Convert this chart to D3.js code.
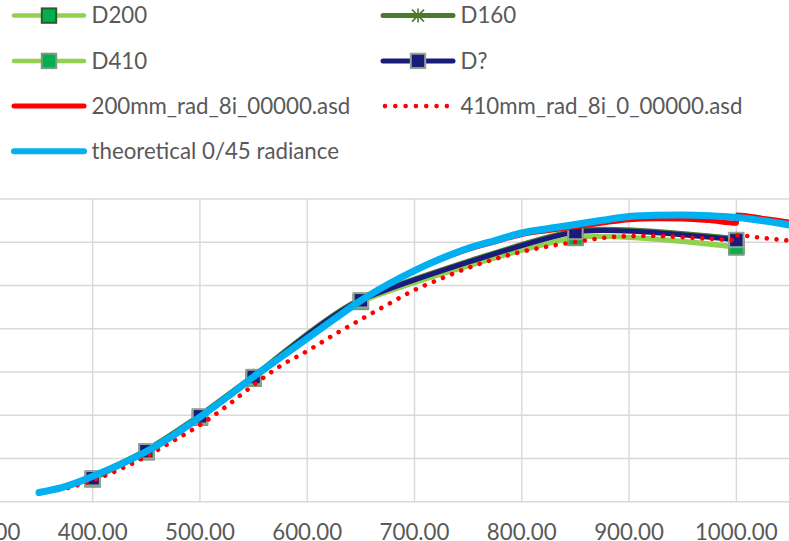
<!DOCTYPE html>
<html>
<head>
<meta charset="utf-8">
<script src="https://cdn.jsdelivr.net/npm/d3@7"></script>
<style>
  html, body { margin: 0; padding: 0; background: #ffffff; overflow: hidden; }
  svg { display: block; }
</style>
</head>
<body>
<svg id="chart" width="789" height="541"></svg>
<script>
// ---- data -------------------------------------------------------------
// sampled wavelengths (nm) of the detector spectra; 1000/1001 marks the VNIR/SWIR splice
const asdNm = [350,375,400,425,450,475,500,525,550,575,600,625,650,675,700,725,750,775,800,825,850,875,900,925,950,975,1000,1001,1025,1050,1075,1100];
const rad200 = [0.0101,0.0172,0.0288,0.0422,0.0575,0.0760,0.0974,0.1201,0.1440,0.1662,0.1884,0.2104,0.2321,0.2506,0.2667,0.2803,0.2918,0.3005,0.3090,0.3136,0.3180,0.3221,0.3261,0.3272,0.3269,0.3250,0.3219,0.3315,0.3275,0.3231,0.3176,0.3113];
const rad410 = [0.0101,0.0153,0.0247,0.0372,0.0523,0.0702,0.0887,0.1107,0.1349,0.1569,0.1742,0.1930,0.2107,0.2280,0.2448,0.2581,0.2704,0.2806,0.2890,0.2953,0.3003,0.3049,0.3070,0.3072,0.3058,0.3040,0.3024,0.3080,0.3049,0.3017,0.2988,0.2962];

// theoretical 0/45 radiance
const theoNm = [350,375,400,425,450,475,500,525,550,575,600,625,650,675,700,725,750,775,800,825,850,875,900,925,950,975,1000,1025,1050,1075,1100];
const theoRad = [0.0106,0.0178,0.0294,0.0428,0.0580,0.0765,0.0979,0.1207,0.1445,0.1667,0.1889,0.2110,0.2326,0.2511,0.2673,0.2812,0.2930,0.3020,0.3107,0.3159,0.3205,0.3254,0.3298,0.3313,0.3315,0.3306,0.3285,0.3248,0.3199,0.3142,0.3072];

// filter-radiometer bands (nm) and their readings
const bandNm = [400,450,500,550,650,850,1000];
const d200 = [0.0262,0.0575,0.0976,0.1427,0.2315,0.3055,0.2951];
const d160 = [0.0285,0.0598,0.1001,0.1456,0.2343,0.3132,0.3040];
const d410 = [0.0258,0.0571,0.0970,0.1421,0.2309,0.3049,0.2939];
const dUnknown = [0.0271,0.0584,0.0987,0.1442,0.2329,0.3118,0.3026];

// axis ticks
const xTicks = [300,400,500,600,700,800,900,1000,1100];
const yTicks = [0,0.05,0.10,0.15,0.20,0.25,0.30,0.35];

// ---- styles -----------------------------------------------------------
const FONT = "Lato, 'Open Sans', sans-serif";
const TEXT = "#595959";
const GRID = "#d9d9d9";

const series = [
  { name: "D200", nm: bandNm, v: d200, color: "#92d050", width: 4.5, curve: "smooth",
    marker: { type: "square", fill: "#00b050", stroke: "#2a5c2e" } },
  { name: "D160", nm: bandNm, v: d160, color: "#4e7a2c", width: 5, curve: "smooth",
    marker: { type: "star", stroke: "#4e7a2c" } },
  { name: "D410", nm: bandNm, v: d410, color: "#92d050", width: 4.5, curve: "smooth",
    marker: { type: "square", fill: "#00b050", stroke: "#7d9a7b" } },
  { name: "D?", nm: bandNm, v: dUnknown, color: "#1b1b7c", width: 5, curve: "smooth",
    marker: { type: "square", fill: "#1b1b7c", stroke: "#95a690" } },
  { name: "200mm_rad_8i_00000.asd", nm: asdNm, v: rad200, color: "#ff0000", width: 5, curve: "mono" },
  { name: "410mm_rad_8i_0_00000.asd", nm: asdNm, v: rad410, color: "#ff0000", width: 4.6, curve: "mono", dotted: true },
  { name: "theoretical 0/45 radiance", nm: theoNm, v: theoRad, color: "#00b0f0", width: 7, curve: "mono" }
];

// ---- layout -----------------------------------------------------------
const svg = d3.select("#chart");

const x = d3.scaleLinear().domain([300, 1100]).range([-14.6, 843.6]);
const y = d3.scaleLinear().domain([0, 0.35]).range([501.7, 199]);

// size the text so the Calibri-like metrics of the layout are kept
const probe = svg.append("text").style("font-family", FONT).style("font-size", "100px")
  .text("200mm_rad_8i_00000.asd");
const fontSize = 100 * 259 / probe.node().getComputedTextLength();
probe.remove();

// gridlines
const grid = svg.append("g");
grid.selectAll("line.h").data(yTicks).join("line")
  .attr("x1", x(300)).attr("x2", x(1100))
  .attr("y1", d => y(d)).attr("y2", d => y(d))
  .attr("stroke", GRID).attr("stroke-width", 1.4);
grid.selectAll("line.v").data(xTicks).join("line")
  .attr("x1", d => x(d)).attr("x2", d => x(d))
  .attr("y1", y(0.35)).attr("y2", y(0))
  .attr("stroke", GRID).attr("stroke-width", 1.4);

// x axis labels
svg.append("g").selectAll("text").data(xTicks).join("text")
  .attr("x", d => x(d)).attr("y", 539.5)
  .attr("text-anchor", "middle")
  .style("font-family", FONT).style("font-size", fontSize + "px")
  .attr("fill", TEXT)
  .text(d => d3.format(".2f")(d));

// markers
function drawMarker(g, m, cx, cy) {
  if (m.type === "square") {
    g.append("rect")
      .attr("x", cx - 7.2).attr("y", cy - 7.2)
      .attr("width", 14.4).attr("height", 14.4)
      .attr("fill", m.fill).attr("stroke", m.stroke).attr("stroke-width", 2);
  } else if (m.type === "star") {
    g.append("path")
      .attr("d", `M${cx},${cy - 7}L${cx},${cy + 7}M${cx - 6},${cy - 6}L${cx + 6},${cy + 6}M${cx - 6},${cy + 6}L${cx + 6},${cy - 6}`)
      .attr("stroke", m.stroke).attr("stroke-width", 1.6).attr("fill", "none");
  }
}

// series, drawn in legend order
const plot = svg.append("g");
series.forEach(s => {
  const pts = s.nm.map((n, i) => [n, s.v[i]]);
  const line = d3.line()
    .x(d => x(d[0])).y(d => y(d[1]))
    .curve(s.curve === "smooth" ? d3.curveCardinal.tension(0.4) : d3.curveMonotoneX);
  const g = plot.append("g");
  const p = g.append("path").datum(pts)
    .attr("d", line)
    .attr("fill", "none")
    .attr("stroke", s.color)
    .attr("stroke-width", s.width)
    .attr("stroke-linejoin", "round")
    .attr("stroke-linecap", "round");
  if (s.dotted) p.attr("stroke-dasharray", "0.01 9.8");
  if (s.marker) pts.forEach(d => drawMarker(g, s.marker, x(d[0]), y(d[1])));
});

// legend
const legendPos = [
  { col: 0, row: 0 }, { col: 1, row: 0 },
  { col: 0, row: 1 }, { col: 1, row: 1 },
  { col: 0, row: 2 }, { col: 1, row: 2 },
  { col: 0, row: 3 }
];
const colX = [14, 383];
const rowY = [15.6, 60.9, 106.1, 151.3];
const legend = svg.append("g");
series.forEach((s, i) => {
  const lx = colX[legendPos[i].col];
  const ly = rowY[legendPos[i].row];
  const g = legend.append("g");
  const l = g.append("line")
    .attr("x1", lx).attr("x2", lx + 70)
    .attr("y1", ly).attr("y2", ly)
    .attr("stroke", s.color)
    .attr("stroke-width", Math.min(s.width, 6))
    .attr("stroke-linecap", "round");
  if (s.dotted) l.attr("x1", lx + 2).attr("x2", lx + 66).attr("stroke-dasharray", "0.01 10.3");
  if (s.marker) drawMarker(g, s.marker, lx + 35, ly);
  g.append("text")
    .attr("x", lx + 77.5).attr("y", ly + 7.8)
    .style("font-family", FONT).style("font-size", fontSize + "px")
    .attr("fill", TEXT)
    .text(s.name);
});
</script>
</body>
</html>
